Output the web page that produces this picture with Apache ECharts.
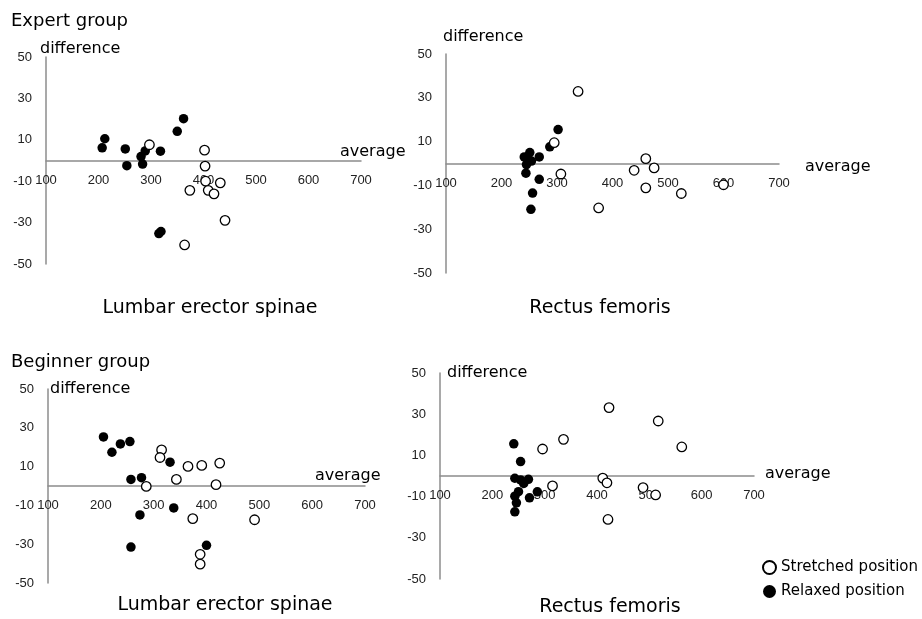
<!DOCTYPE html>
<html>
<head>
<meta charset="utf-8">
<script src="https://cdn.jsdelivr.net/npm/echarts@6/dist/echarts.min.js"></script>
<style>
    html, body { margin: 0; padding: 0; background: #fff; }
    #chart { width: 922px; height: 619px; }
</style>
</head>
<body>
<div id="chart"></div>
<script>
// tick labels
var yTicks = [-50, -30, -10, 10, 30, 50];

// [average, difference]
var expertLumbarStretched = [[297, 7.6], [402, 5], [403, -2.7], [404, -10], [432, -10.8], [409, -14.4],
    [420, -16.1], [374, -14.4], [441, -28.9], [364, -40.8]];
var expertLumbarRelaxed = [[207, 6.1], [212, 10.5], [251, 5.6], [254, -2.5], [281, 1.9], [284, -1.7],
    [289, 4.6], [318, 4.5], [350, 14.1], [362, 20.2], [315, -35.3], [319, -34.3]];

var expertRectusStretched = [[338, 32.9], [295, 9.5], [307, -4.8], [375, -20.3], [439, -3.1], [460, 2.2],
    [475, -2], [460, -11.1], [524, -13.7], [600, -9.7]];
var expertRectusRelaxed = [[241, 3], [251, 5], [268, 3], [254, 1.1], [245, -0.5], [247, 2], [244, -4.4],
    [268, -7.2], [256, -13.5], [253, -20.9], [287, 7.6], [302, 15.5]];

var beginnerLumbarStretched = [[315, 18.6], [312, 14.7], [286, -0.2], [343, 3.4], [365, 10.1], [391, 10.6],
    [425, 11.8], [418, 0.7], [374, -16.8], [491, -17.4], [388, -35.2], [388, -40.3]];
var beginnerLumbarRelaxed = [[205, 25.3], [221, 17.4], [237, 21.7], [255, 22.9], [257, 3.4], [277, 4.3],
    [274, -14.9], [257, -31.5], [331, 12.3], [338, -11.3], [400, -30.6]];

var beginnerRectusStretched = [[296, 13.1], [336, 17.8], [315, -4.8], [423, 33.2], [517, 26.7], [562, 14.1],
    [411, -1], [419, -3.3], [488, -5.6], [512, -9.2], [421, -21.1]];
var beginnerRectusRelaxed = [[241, 15.6], [254, 7], [243, -1.1], [254, -1.9], [269, -1.6], [260, -3.6],
    [250, -7.6], [243, -9.8], [246, -13], [243, -17.4], [271, -10.6], [286, -7.7]];

var chart = echarts.init(document.getElementById('chart'));

var axisColor = '#8c8c8c';
var labelFont = 'Liberation Sans';
var textFont = 'DejaVu Sans';

var grids = [
    {left: 46, top: 57, width: 315, height: 207},
    {left: 446, top: 54, width: 333, height: 219},
    {left: 48, top: 389, width: 317, height: 194},
    {left: 440, top: 373, width: 314, height: 206}
];

var xAxes = [], yAxes = [];
for (var i = 0; i < grids.length; i++) {
    xAxes.push({
        type: 'value',
        gridIndex: i,
        min: 100,
        max: 700,
        interval: 100,
        // y range is symmetric, so the middle of the grid is difference = 0
        offset: -grids[i].height / 2,
        axisLine: {onZero: false, lineStyle: {color: axisColor, width: 1.5}},
        axisTick: {show: false},
        splitLine: {show: false},
        axisLabel: {margin: 13, color: '#222', fontSize: 13, fontFamily: labelFont}
    });
    yAxes.push({
        type: 'value',
        gridIndex: i,
        min: -50,
        max: 50,
        axisLine: {show: true, onZero: false, lineStyle: {color: axisColor, width: 1.5}},
        axisTick: {show: false},
        splitLine: {show: false},
        axisLabel: {
            customValues: yTicks,
            margin: 14,
            color: '#222',
            fontSize: 13,
            fontFamily: labelFont
        }
    });
}

var stretchedStyle = {color: '#fff', borderColor: '#000', borderWidth: 1.3, opacity: 1};
var relaxedStyle = {color: '#000', borderColor: '#000', borderWidth: 0, opacity: 1};

function dots(name, idx, data, style) {
    return {
        name: name,
        type: 'scatter',
        xAxisIndex: idx,
        yAxisIndex: idx,
        data: data,
        symbol: 'circle',
        symbolSize: 9.5,
        itemStyle: style,
        emphasis: {disabled: true}
    };
}

var panels = [
    [expertLumbarRelaxed, expertLumbarStretched],
    [expertRectusRelaxed, expertRectusStretched],
    [beginnerLumbarRelaxed, beginnerLumbarStretched],
    [beginnerRectusRelaxed, beginnerRectusStretched]
];
var series = [];
panels.forEach(function (p, idx) {
    series.push(dots('Relaxed position', idx, p[0], relaxedStyle));
    series.push(dots('Stretched position', idx, p[1], stretchedStyle));
});

function label(text, x, y, size, align) {
    return {
        type: 'text',
        x: x,
        y: y,
        silent: true,
        style: {
            text: text,
            fill: '#000',
            font: size + 'px "' + textFont + '"',
            textAlign: align || 'left',
            textVerticalAlign: 'middle'
        }
    };
}

var option = {
    backgroundColor: '#fff',
    animation: false,
    grid: grids,
    xAxis: xAxes,
    yAxis: yAxes,
    legend: {
        orient: 'vertical',
        left: 762,
        top: 560,
        itemWidth: 13,
        itemHeight: 13,
        itemGap: 9,
        padding: 0,
        selectedMode: false,
        textStyle: {color: '#000', fontSize: 15, fontFamily: textFont},
        data: [
            {name: 'Stretched position', icon: 'circle'},
            {name: 'Relaxed position', icon: 'circle'}
        ]
    },
    graphic: [
        label('Expert group', 11, 21, 18),
        label('difference', 40, 49, 16),
        label('average', 340, 152, 16),
        label('Lumbar erector spinae', 210, 308, 19, 'center'),
        label('difference', 443, 37, 16),
        label('average', 805, 167, 16),
        label('Rectus femoris', 600, 308, 19, 'center'),
        label('Beginner group', 11, 362, 18),
        label('difference', 50, 389, 16),
        label('average', 315, 476, 16),
        label('Lumbar erector spinae', 225, 605, 19, 'center'),
        label('difference', 447, 373, 16),
        label('average', 765, 474, 16),
        label('Rectus femoris', 610, 607, 19, 'center')
    ],
    series: series
};

chart.setOption(option);
</script>
</body>
</html>
